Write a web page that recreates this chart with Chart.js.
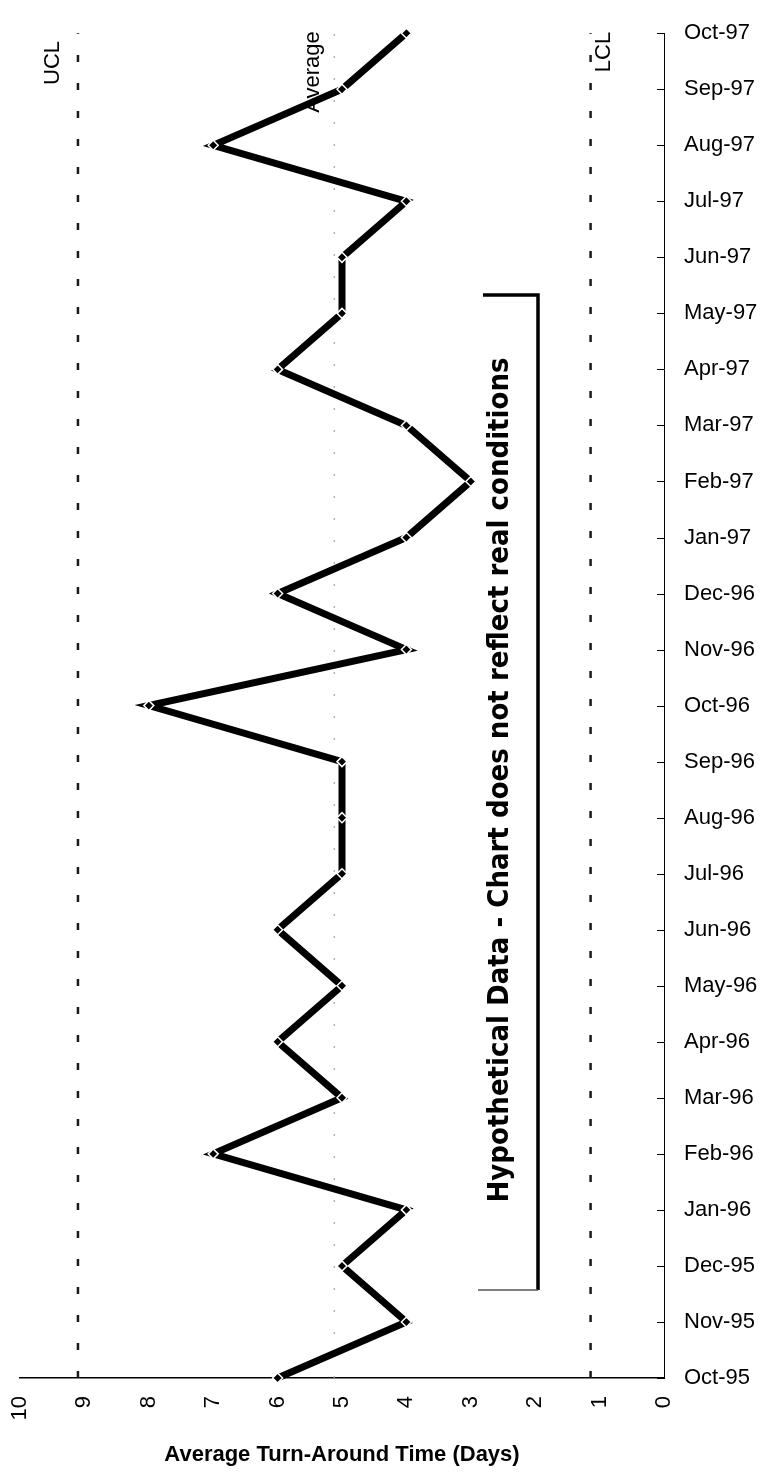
<!DOCTYPE html>
<html><head><meta charset="utf-8">
<script src="https://cdn.jsdelivr.net/npm/chart.js@4.4.1/dist/chart.umd.min.js"></script>
<style>html,body{margin:0;padding:0;background:#fff;}#wrap{width:761px;height:1474px;position:relative;}</style>
</head><body><div id="wrap"><canvas id="c"></canvas></div>
<script>
const months = ['Oct-95','Nov-95','Dec-95','Jan-96','Feb-96','Mar-96','Apr-96','May-96','Jun-96','Jul-96','Aug-96','Sep-96','Oct-96','Nov-96','Dec-96','Jan-97','Feb-97','Mar-97','Apr-97','May-97','Jun-97','Jul-97','Aug-97','Sep-97','Oct-97'];
const turnAround = [6,4,5,4,7,5,6,5,6,5,5,5,8,4,6,4,3,4,6,5,5,4,7,5,4];
const ucl = 9.1;
const average = 5.12;
const lcl = 1.14;
const controlNames = ['UCL','Average','LCL'];
const axisTitle = 'Average Turn-Around Time (Days)';
const note = 'Hypothetical Data - Chart does not reflect real conditions';

Chart.defaults.font.family = '"Liberation Sans", Arial, sans-serif';
Chart.defaults.color = '#000';

function ctrlLine(v, color, width, dash) {
  return {
    data: [{x: v, y: months[0]}, {x: v, y: months[months.length - 1]}],
    borderColor: color, borderWidth: width, borderDash: dash,
    pointRadius: 0, fill: false, clip: false
  };
}

const overlay = {
  id: 'overlay',
  afterDatasetsDraw(chart) {
    const ctx = chart.ctx, xs = chart.scales.x, ys = chart.scales.y;
    ctx.save();
    // inner ticks on right axis
    ctx.strokeStyle = '#000'; ctx.lineWidth = 1;
    ys.ticks.forEach((t, i) => {
      const y = Math.round(ys.getPixelForTick(i)) + 0.5;
      ctx.beginPath(); ctx.moveTo(xs.right - 7, y); ctx.lineTo(xs.right, y); ctx.stroke();
    });
    // control line labels
    ctx.fillStyle = '#000';
    ctx.font = '22px "Liberation Sans", Arial, sans-serif';
    ctx.textAlign = 'center'; ctx.textBaseline = 'middle';
    const lab = [[controlNames[0], xs.getPixelForValue(ucl) - 25, 63],
                 [controlNames[1], xs.getPixelForValue(average) - 21, 72],
                 [controlNames[2], xs.getPixelForValue(lcl) + 13, 52]];
    lab.forEach(([t, x, y]) => {
      ctx.save(); ctx.translate(x, y); ctx.rotate(-Math.PI / 2); ctx.fillText(t, 0, 0); ctx.restore();
    });
    // note text
    ctx.save();
    ctx.translate(500, 780); ctx.rotate(-Math.PI / 2);
    ctx.font = 'bold 29px "DejaVu Sans Condensed", "DejaVu Sans", sans-serif';
    const w = ctx.measureText(note).width;
    ctx.scale(845 / w, 1);
    ctx.fillText(note, 0, 0);
    ctx.restore();
    // bracket
    ctx.strokeStyle = '#000'; ctx.lineWidth = 3.5;
    ctx.beginPath(); ctx.moveTo(483, 295); ctx.lineTo(538, 295); ctx.lineTo(538, 1290); ctx.stroke();
    ctx.strokeStyle = '#555'; ctx.lineWidth = 1.5;
    ctx.beginPath(); ctx.moveTo(478, 1290); ctx.lineTo(538, 1290); ctx.stroke();
    ctx.restore();
  }
};

new Chart(document.getElementById('c'), {
  type: 'line',
  data: {
    labels: months,
    datasets: [
      {
        data: turnAround, borderColor: '#000', borderWidth: 7, tension: 0,
        pointStyle: 'rectRot', pointRadius: 5, pointBackgroundColor: '#000',
        pointBorderColor: '#fff', pointBorderWidth: 1.5, clip: false
      },
      ctrlLine(ucl, '#1a1a1a', 2.5, [7, 21]),
      ctrlLine(average, '#a0a0a0', 1.2, [2, 20]),
      ctrlLine(lcl, '#1a1a1a', 2.5, [7, 21])
    ]
  },
  options: {
    indexAxis: 'y',
    responsive: true, maintainAspectRatio: false, animation: false,
    layout: {padding: {left: 20, top: 18, right: 0, bottom: 0}},
    plugins: {legend: {display: false}, tooltip: {enabled: false}},
    scales: {
      x: {
        type: 'linear', min: 0, max: 10, reverse: true, position: 'bottom',
        grid: {drawOnChartArea: false, drawTicks: false},
        border: {display: true, color: '#000', width: 1.5},
        ticks: {stepSize: 1, minRotation: 90, maxRotation: 90, padding: 18, font: {size: 22}},
        title: {display: true, text: axisTitle, font: {size: 22, weight: 'bold'}, padding: {top: 10, bottom: 6}},
        afterFit: s => { s.height = 96; }
      },
      y: {
        type: 'category', position: 'right', reverse: true, offset: false,
        grid: {drawOnChartArea: false, drawTicks: false},
        border: {display: true, color: '#000', width: 1},
        ticks: {padding: 20, font: {size: 22}, autoSkip: false},
        afterFit: s => { s.width = 97; }
      }
    }
  },
  plugins: [overlay]
});
</script>
</body></html>
